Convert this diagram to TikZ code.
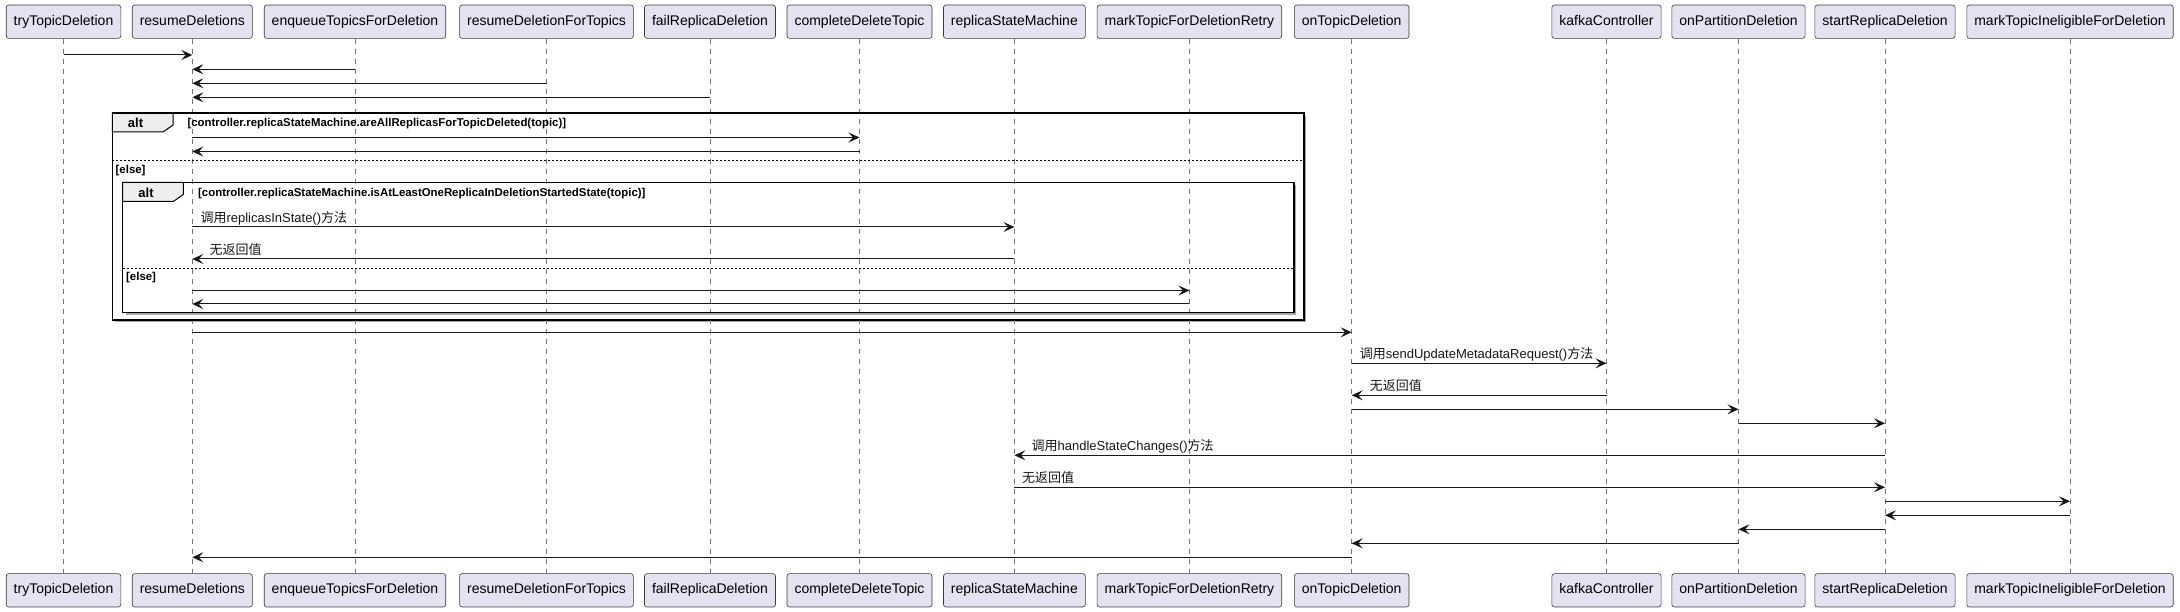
\documentclass[tikz,border=0pt]{standalone}
\usepackage{fontspec}
\setmainfont{Liberation Sans}
\newfontfamily\cjk{Noto Sans CJK SC}
\usetikzlibrary{arrows.meta}
\definecolor{pfill}{HTML}{E2E2F0}
\definecolor{pline}{HTML}{181818}
\definecolor{tabfill}{HTML}{EEEEEE}
\tikzset{
 part/.style={draw=pline!85, line width=0.6pt, fill=pfill, rounded corners=2.5pt, minimum height=33.3pt, inner xsep=7.5pt, inner ysep=0pt, text height=10.2pt, text depth=2.9pt, font=\fontsize{14}{16}\selectfont, text=black},
 life/.style={draw=pline!60, line width=0.8pt, dash pattern=on 5pt off 5pt},
 msgline/.style={draw=pline, line width=1pt, -{Stealth[length=11pt,width=10pt,inset=4.5pt]}},
 lbl/.style={font=\fontsize{13}{15}\selectfont, inner sep=0pt, anchor=base west, text=pline},
 guard/.style={font=\fontsize{11.4}{13}\selectfont\bfseries, inner sep=0pt, anchor=west},
 altlbl/.style={font=\fontsize{13}{15}\selectfont\bfseries, inner sep=0pt},
 frameline/.style={draw=black, line width=1.5pt},
 framesh/.style={draw=black!35, line width=1.5pt},
 tabline/.style={draw=black, line width=1pt, fill=tabfill},
 sepline/.style={draw=black, line width=1pt, dash pattern=on 2pt off 2pt},
}
\newcommand\seqmsg[3]{\draw[msgline] (#1 |- 0,#3) -- (#2 |- 0,#3);}
\begin{document}
\begin{tikzpicture}[x=1pt,y=-1pt]
\useasboundingbox (0,0) rectangle (2180,612);
\fill[white] (0,0) rectangle (2180,612);

% participants
\foreach \n/\x/\t in {1/63.5/tryTopicDeletion, 2/192.3/resumeDeletions, 3/355/enqueueTopicsForDeletion, 4/546.5/resumeDeletionForTopics, 5/710/failReplicaDeletion, 6/859.5/completeDeleteTopic, 7/1014.4/replicaStateMachine, 8/1189.4/markTopicForDeletionRetry, 9/1351.7/onTopicDeletion, 10/1606.5/kafkaController, 11/1738.5/onPartitionDeletion, 12/1885/startReplicaDeletion, 13/2070/markTopicIneligibleForDeletion}{
  \node[part] (t\n) at (\x,21.7) {\t};
  \node[part] (b\n) at (\x,590.3) {\t};
  \draw[life] (t\n.south) -- (b\n.north);
}

% outer alt frame
\draw[framesh] (1305.5,116) -- (1305.5,321.5) -- (115.3,321.5);
\draw[tabline] (112.3,113) -- (173,113) -- (173,125) -- (163,132) -- (112.3,132) -- cycle;
\draw[frameline] (112.3,113) rectangle (1304,320);
\node[altlbl] (alt1) at (135.5,123) {alt};
\node[guard] (g1) at (187.3,124) {[controller.replicaStateMachine.areAllReplicasForTopicDeleted(topic)]};
\draw[sepline] (112.3,160.5) -- (1304,160.5);
\node[guard] (e1) at (115.5,170.5) {[else]};

% inner alt frame
\draw[framesh] (1295.5,185.5) -- (1295.5,313.8) -- (125.7,313.8);
\draw[tabline] (122.7,182.5) -- (183.3,182.5) -- (183.3,194.5) -- (173.3,201.5) -- (122.7,201.5) -- cycle;
\draw[frameline] (122.7,182.5) rectangle (1294,312.3);
\node[altlbl] (alt2) at (146,192.5) {alt};
\node[guard] (g2) at (198,193.5) {[controller.replicaStateMachine.isAtLeastOneReplicaInDeletionStartedState(topic)]};
\draw[sepline] (122.7,268.3) -- (1294,268.3);
\node[guard] (e2) at (126,277.5) {[else]};

% messages
\seqmsg{t1}{t2}{55}
\seqmsg{t3}{t2}{69.3}
\seqmsg{t4}{t2}{83.3}
\seqmsg{t5}{t2}{97.3}
\seqmsg{t2}{t6}{137.5}
\seqmsg{t6}{t2}{151.5}
\seqmsg{t2}{t7}{227}
\seqmsg{t7}{t2}{259}
\seqmsg{t2}{t8}{290.5}
\seqmsg{t8}{t2}{304}
\seqmsg{t2}{t9}{332.3}
\seqmsg{t9}{t10}{363.3}
\seqmsg{t10}{t9}{395.3}
\seqmsg{t9}{t11}{409.3}
\seqmsg{t11}{t12}{423.3}
\seqmsg{t12}{t7}{455.3}
\seqmsg{t7}{t12}{487.3}
\seqmsg{t12}{t13}{501.3}
\seqmsg{t13}{t12}{515.3}
\seqmsg{t12}{t11}{529.3}
\seqmsg{t11}{t9}{543.3}
\seqmsg{t9}{t2}{557.3}

% message labels
\node[lbl, xshift=8pt, yshift=4.5pt] (m7) at (t2 |- 0,227) {{\cjk 调用}replicasInState(){\cjk 方法}};
\node[lbl, xshift=17pt, yshift=4.5pt] (m8) at (t2 |- 0,259) {\cjk 无返回值};
\node[lbl, xshift=8pt, yshift=4.5pt] (m12) at (t9 |- 0,363.3) {{\cjk 调用}sendUpdateMetadataRequest(){\cjk 方法}};
\node[lbl, xshift=18pt, yshift=4.5pt] (m13) at (t9 |- 0,395.3) {\cjk 无返回值};
\node[lbl, xshift=17pt, yshift=4.5pt] (m16) at (t7 |- 0,455.3) {{\cjk 调用}handleStateChanges(){\cjk 方法}};
\node[lbl, xshift=7.5pt, yshift=4.5pt] (m17) at (t7 |- 0,487.3) {\cjk 无返回值};
\end{tikzpicture}
\end{document}
